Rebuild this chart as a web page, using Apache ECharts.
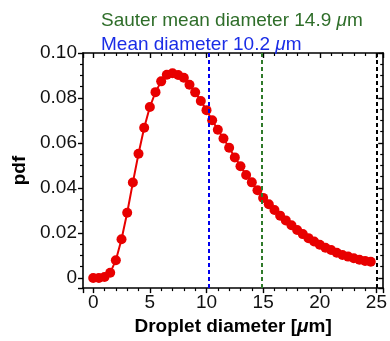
<!DOCTYPE html>
<html>
<head>
<meta charset="utf-8">
<script src="https://cdn.jsdelivr.net/npm/echarts@6/dist/echarts.min.js"></script>
<style>
  html, body { margin: 0; padding: 0; background: #fff; }
  #chart { width: 390px; height: 341px; }
</style>
</head>
<body>
<div id="chart"></div>
<script>
// droplet diameter [um], step 0.5
const diameters = [0, 0.5, 1, 1.5, 2, 2.5, 3, 3.5, 4, 4.5, 5, 5.5, 6, 6.5, 7, 7.5, 8, 8.5, 9, 9.5,
  10, 10.5, 11, 11.5, 12, 12.5, 13, 13.5, 14, 14.5, 15, 15.5, 16, 16.5, 17, 17.5, 18, 18.5, 19, 19.5,
  20, 20.5, 21, 21.5, 22, 22.5, 23, 23.5, 24, 24.5]
// pdf values
const pdfValues = [0.0000, 0.0000, 0.0004, 0.0023, 0.0079, 0.0172, 0.0290, 0.0424, 0.0552, 0.0668,
  0.0760, 0.0826, 0.0874, 0.0903, 0.0910, 0.0902, 0.0890, 0.0859, 0.0825, 0.0787,
  0.0746, 0.0701, 0.0659, 0.0620, 0.0579, 0.0536, 0.0497, 0.0458, 0.0425, 0.0390,
  0.0356, 0.0328, 0.0302, 0.0277, 0.0256, 0.0234, 0.0213, 0.0195, 0.0177, 0.0162,
  0.0148, 0.0134, 0.0124, 0.0112, 0.0102, 0.0095, 0.0088, 0.0081, 0.0076, 0.0072]
const meanDiameter = 10.2
const sauterDiameter = 14.9
const maxDiameter = 25

const FONT = 'Liberation Sans, Arial, Helvetica, sans-serif'

let chart = echarts.init(document.getElementById('chart'))

// box axes: left/bottom ticks point out, top/right ticks point in
const ts = (minorSplit, inside) => ({
  axisLine: { show: true, onZero: false, lineStyle: { color: '#000', width: 1.6 } },
  axisTick: { show: true, inside: inside, length: 5, lineStyle: { color: '#000', width: 1.4 } },
  minorTick: { show: true, splitNumber: minorSplit, length: 3, lineStyle: { color: '#000', width: 1.2 } },
  splitLine: { show: false }
})

const titleRich = (color) => ({
  a: { fontFamily: FONT, fontSize: 19, fontWeight: 'normal', color: color },
  i: { fontFamily: FONT, fontSize: 19, fontWeight: 'normal', fontStyle: 'italic', color: color }
})

chart.setOption({
  animation: false,
  title: [
    {
      text: '{a|Sauter mean diameter ' + sauterDiameter + ' }{i|μ}{a|m}',
      left: 96, top: 6,
      textStyle: { fontWeight: 'normal', rich: titleRich('#2f6e2a') }
    },
    {
      text: '{a|Mean diameter ' + meanDiameter + ' }{i|μ}{a|m}',
      left: 96, top: 30,
      textStyle: { fontWeight: 'normal', rich: titleRich('#1a2de6') }
    }
  ],
  grid: { left: 83, right: 2, top: 53, bottom: 44 },
  xAxis: [
    Object.assign({ type: 'value', min: -0.9, max: 25.6, position: 'bottom' }, ts(5, false), {
      name: '{b|Droplet diameter [}{bi|μ}{b|m]}',
      nameLocation: 'middle',
      nameGap: 17,
      nameTextStyle: {
        verticalAlign: 'top',
        rich: {
          b: { fontFamily: FONT, fontSize: 19, fontWeight: 'bold', color: '#000' },
          bi: { fontFamily: FONT, fontSize: 19, fontWeight: 'bold', fontStyle: 'italic', color: '#000' }
        }
      },
      axisLabel: {
        margin: 5, fontFamily: FONT, fontSize: 19, color: '#111',
        formatter: v => (Math.abs(v % 5) < 1e-9 ? String(v) : '')
      }
    }),
    Object.assign({ type: 'value', min: -0.9, max: 25.6, position: 'top', axisLabel: { show: false } }, ts(5, true))
  ],
  yAxis: [
    Object.assign({ type: 'value', min: -0.0045, max: 0.10, position: 'left' }, ts(4, false), {
      name: 'pdf',
      nameLocation: 'middle',
      nameGap: 50,
      nameTextStyle: { fontFamily: FONT, fontSize: 19, fontWeight: 'bold', color: '#000' },
      axisLabel: {
        margin: 6, fontFamily: FONT, fontSize: 19, color: '#111',
        formatter: v => (v < 0 ? '' : (v === 0 ? '0' : v.toFixed(2)))
      }
    }),
    Object.assign({ type: 'value', min: -0.0045, max: 0.10, position: 'right', axisLabel: { show: false } }, ts(4, true))
  ],
  series: [
    {
      type: 'line',
      data: diameters.map((d, i) => [d, pdfValues[i]]),
      symbol: 'circle',
      symbolSize: 10,
      showSymbol: true,
      itemStyle: { color: '#e80000' },
      lineStyle: { color: '#e80000', width: 2 },
      markLine: {
        silent: true,
        symbol: ['none', 'none'],
        label: { show: false },
        data: [
          { xAxis: meanDiameter, lineStyle: { color: '#0000ee', type: [4, 3], width: 2 } },
          { xAxis: sauterDiameter, lineStyle: { color: '#2f7a2a', type: [4, 3], width: 2 } },
          { xAxis: maxDiameter, lineStyle: { color: '#000', type: [4, 3], width: 2 } }
        ]
      }
    }
  ]
})
</script>
</body>
</html>
